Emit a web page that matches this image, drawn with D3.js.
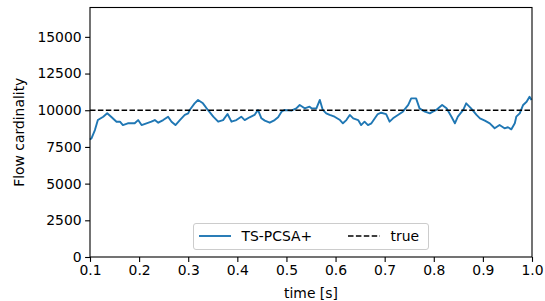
<!DOCTYPE html>
<html>
<head>
<meta charset="utf-8">
<script src="https://cdn.jsdelivr.net/npm/d3@7"></script>
<style>
  body { margin: 0; background: #fff; }
  svg text { font-family: "DejaVu Sans", sans-serif; fill: #000; }
</style>
</head>
<body>
<div id="chart"></div>
<script>
// estimated flow cardinality over time
var times = [0.100, 0.103, 0.110, 0.116, 0.127, 0.135, 0.143, 0.154, 0.161, 0.167, 0.177,
  0.191, 0.198, 0.205, 0.215, 0.225, 0.232, 0.239, 0.249, 0.259, 0.266, 0.274, 0.283,
  0.293, 0.300, 0.303, 0.313, 0.320, 0.330, 0.340, 0.351, 0.361, 0.371, 0.380, 0.388,
  0.398, 0.408, 0.415, 0.425, 0.435, 0.442, 0.449, 0.456, 0.466, 0.476, 0.483, 0.490,
  0.496, 0.510, 0.520, 0.527, 0.537, 0.547, 0.551, 0.561, 0.568, 0.574, 0.581, 0.588,
  0.598, 0.609, 0.615, 0.622, 0.629, 0.636, 0.646, 0.652, 0.659, 0.666, 0.673, 0.680,
  0.686, 0.693, 0.703, 0.710, 0.717, 0.727, 0.737, 0.748, 0.754, 0.764, 0.771, 0.782,
  0.792, 0.798, 0.805, 0.817, 0.826, 0.836, 0.843, 0.849, 0.860, 0.866, 0.876, 0.887,
  0.894, 0.904, 0.914, 0.924, 0.934, 0.944, 0.951, 0.958, 0.965, 0.968, 0.975, 0.982,
  0.989, 0.995, 0.999]
var estimate = [8000, 8090, 8650, 9330, 9560, 9790, 9560, 9220, 9220, 8990, 9110,
  9110, 9330, 8990, 9110, 9220, 9330, 9150, 9330, 9560, 9220, 8990, 9330,
  9680, 9790, 10020, 10470, 10700, 10470, 10020, 9560, 9220, 9330, 9740, 9220,
  9330, 9560, 9330, 9520, 9680, 10020, 9450, 9290, 9150, 9330, 9520, 9900,
  10020, 9970, 10130, 10360, 10130, 10240, 10130, 10130, 10700, 10020, 9790, 9680,
  9560, 9330, 9110, 9330, 9680, 9450, 9330, 8990, 9220, 8990, 9110, 9450,
  9740, 9830, 9740, 9220, 9450, 9680, 9900, 10360, 10810, 10810, 10130, 9900,
  9790, 9900, 10020, 10360, 10130, 9560, 9110, 9560, 10020, 10470, 10130, 9680,
  9450, 9290, 9110, 8770, 8990, 8770, 8840, 8700, 9110, 9560, 9790, 10360,
  10580, 10920, 10700]
var trueValue = 10000
var xTicks = [0.1, 0.2, 0.3, 0.4, 0.5, 0.6, 0.7, 0.8, 0.9, 1.0]
var yTicks = [0, 2500, 5000, 7500, 10000, 12500, 15000]
var seriesNames = ["TS-PCSA+", "true"]

var W = 545, H = 301
var margin = {left: 90, right: 13, top: 7.5, bottom: 44}
var fs = 13.9

var svg = d3.select("#chart").append("svg").attr("width", W).attr("height", H)

var x = d3.scaleLinear().domain([0.1, 1.0]).range([margin.left, W - margin.right])
var y = d3.scaleLinear().domain([0, 17000]).range([H - margin.bottom, margin.top])

var line = d3.line().x(function(d, i) { return x(times[i]) }).y(function(d) { return y(d) })

svg.append("path")
  .datum(estimate)
  .attr("d", line)
  .attr("fill", "none")
  .attr("stroke", "#1f77b4")
  .attr("stroke-width", 1.9)
  .attr("stroke-linejoin", "round")

svg.append("line")
  .attr("x1", x(0.1)).attr("x2", x(1.0))
  .attr("y1", y(trueValue)).attr("y2", y(trueValue))
  .attr("stroke", "#000").attr("stroke-width", 1.5)
  .attr("stroke-dasharray", "5.5,2.4")

// axes
var xAxis = svg.append("g")
  .attr("transform", "translate(0," + y(0) + ")")
  .call(d3.axisBottom(x).tickValues(xTicks).tickFormat(d3.format(".1f")).tickSize(4.9).tickPadding(3.5))
var yAxis = svg.append("g")
  .attr("transform", "translate(" + x(0.1) + ",0)")
  .call(d3.axisLeft(y).tickValues(yTicks).tickFormat(d3.format("d")).tickSize(4.9).tickPadding(3.5))

;[xAxis, yAxis].forEach(function(g) {
  g.select(".domain").remove()
  g.selectAll(".tick line").attr("stroke", "#000").attr("stroke-width", 1.1)
  g.selectAll(".tick text").attr("font-size", fs).attr("font-family", "DejaVu Sans").attr("fill", "#000")
})

// frame
svg.append("rect")
  .attr("x", x(0.1)).attr("y", y(17000))
  .attr("width", x(1.0) - x(0.1)).attr("height", y(0) - y(17000))
  .attr("fill", "none").attr("stroke", "#000").attr("stroke-width", 1.1)

// axis labels
svg.append("text")
  .attr("x", (x(0.1) + x(1.0)) / 2).attr("y", 298)
  .attr("text-anchor", "middle").attr("font-size", fs)
  .text("time [s]")
svg.append("text")
  .attr("transform", "translate(24," + (y(0) + y(17000)) / 2 + ") rotate(-90)")
  .attr("text-anchor", "middle").attr("font-size", fs)
  .text("Flow cardinality")

// legend
var lg = svg.append("g")
lg.append("rect")
  .attr("x", 193.5).attr("y", 223.5).attr("width", 235).attr("height", 26)
  .attr("rx", 2.5).attr("fill", "#fff").attr("fill-opacity", 0.8)
  .attr("stroke", "#ccc").attr("stroke-width", 1)
lg.append("line").attr("x1", 199).attr("x2", 231).attr("y1", 236).attr("y2", 236)
  .attr("stroke", "#1f77b4").attr("stroke-width", 1.9)
lg.append("text").attr("x", 241.5).attr("y", 241).attr("font-size", fs).text(seriesNames[0])
lg.append("line").attr("x1", 348).attr("x2", 380).attr("y1", 236).attr("y2", 236)
  .attr("stroke", "#000").attr("stroke-width", 1.5).attr("stroke-dasharray", "5.5,2.4")
lg.append("text").attr("x", 390.5).attr("y", 241).attr("font-size", fs).text(seriesNames[1])
</script>
</body>
</html>
